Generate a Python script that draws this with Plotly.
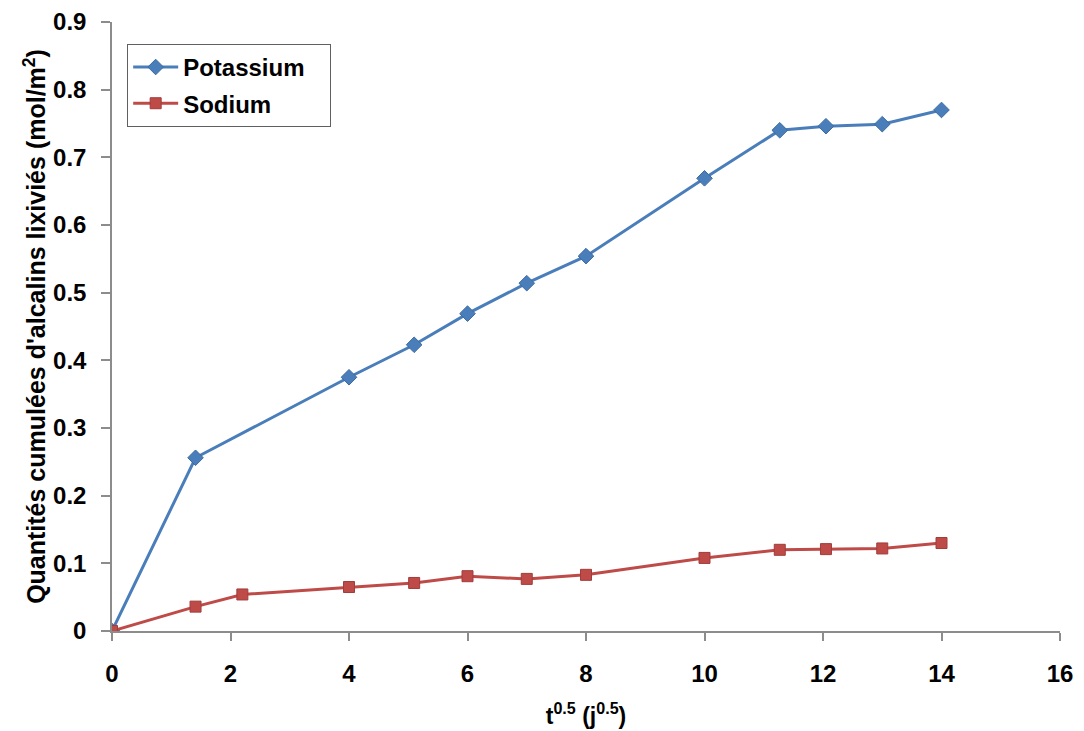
import plotly.graph_objects as go

k_x = [0, 1.41, 4.0, 5.1, 6.0, 7.0, 8.0, 10.0, 11.27, 12.05, 13.0, 14.0]
k_y = [0, 0.256, 0.375, 0.423, 0.469, 0.514, 0.554, 0.669, 0.740, 0.746, 0.749, 0.770]

na_x = [0, 1.41, 2.2, 4.0, 5.1, 6.0, 7.0, 8.0, 10.0, 11.27, 12.05, 13.0, 14.0]
na_y = [0, 0.036, 0.054, 0.065, 0.071, 0.081, 0.077, 0.083, 0.108, 0.120, 0.121, 0.122, 0.130]

x_ticks = [0, 2, 4, 6, 8, 10, 12, 14, 16]
y_ticks = [0, 0.1, 0.2, 0.3, 0.4, 0.5, 0.6, 0.7, 0.8, 0.9]
y_tick_labels = ["0", "0.1", "0.2", "0.3", "0.4", "0.5", "0.6", "0.7", "0.8", "0.9"]

FONT = "Liberation Sans, Arial, sans-serif"
PAD = "\u00a0\u00a0\u00a0"

fig = go.Figure()
fig.add_trace(go.Scatter(
    x=k_x, y=k_y, name="Potassium" + PAD, mode="lines+markers", legendgroup="k",
    line=dict(color="#4A7EBB", width=3),
    marker=dict(symbol="diamond", size=12, color="#4A7EBB",
                line=dict(color="#3C6A9E", width=1)),
))
fig.add_trace(go.Scatter(
    x=na_x, y=na_y, name="Sodium" + PAD, mode="lines+markers", legendgroup="na",
    line=dict(color="#BE4B48", width=3),
    marker=dict(symbol="square", size=11, color="#BE4B48",
                line=dict(color="#A03C3A", width=1)),
))

fig.update_layout(
    width=1076, height=723,
    margin=dict(l=104, r=24, t=14, b=100),
    paper_bgcolor="white", plot_bgcolor="white",
    font=dict(family=FONT, color="black"),
    showlegend=True,
    legend=dict(
        x=0.016, y=0.964, xanchor="left", yanchor="top",
        bordercolor="#606060", borderwidth=1, bgcolor="white",
        font=dict(family=FONT, size=24, color="black", weight="bold"),
        itemwidth=45, tracegroupgap=2,
    ),
    xaxis=dict(
        range=[0, 16], tickvals=x_ticks, ticktext=[str(v) for v in x_ticks],
        showgrid=False, zeroline=False, automargin=False,
        showline=True, linecolor="#8C8C8C", linewidth=1.5,
        ticks="outside", ticklen=8, tickcolor="#8C8C8C", tickwidth=1.5,
        ticklabelstandoff=12,
        tickfont=dict(family=FONT, size=24, color="black", weight="bold"),
        title=dict(text="t<sup>0.5</sup> (j<sup>0.5</sup>)",
                   font=dict(family=FONT, size=23, color="black", weight="bold"),
                   standoff=22),
    ),
    yaxis=dict(
        range=[0, 0.9], tickvals=y_ticks, ticktext=y_tick_labels,
        showgrid=False, zeroline=False, automargin=False,
        showline=True, linecolor="#8C8C8C", linewidth=1.5,
        ticks="outside", ticklen=9, tickcolor="#8C8C8C", tickwidth=1.5,
        ticklabelstandoff=10,
        tickfont=dict(family=FONT, size=24, color="black", weight="bold"),
        title=dict(text="Quantités cumulées d'alcalins lixiviés (mol/m<sup>2</sup>)",
                   font=dict(family=FONT, size=25, color="black", weight="bold"),
                   standoff=0),
    ),
)

fig.write_html("out.html")
